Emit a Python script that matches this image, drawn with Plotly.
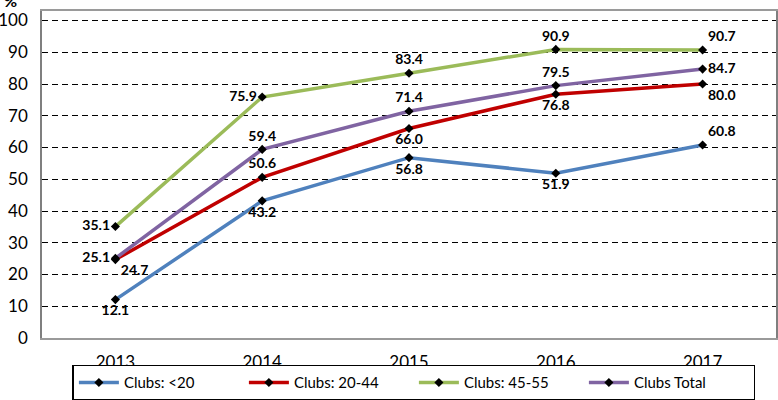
import plotly.graph_objects as go

years = ["2013", "2014", "2015", "2016", "2017"]
clubs_lt20 = [12.1, 43.2, 56.8, 51.9, 60.8]
clubs_20_44 = [24.7, 50.6, 66.0, 76.8, 80.0]
clubs_45_55 = [35.1, 75.9, 83.4, 90.9, 90.7]
clubs_total = [25.1, 59.4, 71.4, 79.5, 84.7]

series = [
    ("Clubs: <20", clubs_lt20, "#4F81BD",
     ["bottom center", "bottom center", "bottom center", "bottom center", "top right"]),
    ("Clubs: 20-44", clubs_20_44, "#C00000",
     ["bottom right", "top center", "bottom center", "bottom center", "bottom right"]),
    ("Clubs: 45-55", clubs_45_55, "#9BBB59",
     ["middle left", "middle left", "top center", "top center", "top right"]),
    ("Clubs Total", clubs_total, "#8064A2",
     ["middle left", "top center", "top center", "top center", "middle right"]),
]

fig = go.Figure()
for name, vals, color, pos in series:
    fig.add_trace(go.Scatter(
        x=years, y=vals, name=name, mode="lines+markers+text",
        line=dict(color=color, width=3.5),
        marker=dict(symbol="diamond", size=7, color="black"),
        text=[f"{v:.1f}" for v in vals],
        textposition=pos,
        textfont=dict(family="Lato", size=14, color="black", weight="bold"),
        cliponaxis=False,
    ))

fig.update_layout(
    width=778, height=400,
    margin=dict(l=42, r=2, t=11, b=62),
    paper_bgcolor="white", plot_bgcolor="white",
    font=dict(family="Lato", size=16, color="black"),
    xaxis=dict(
        type="category", range=[-0.5, 4.5], showgrid=False, automargin=False,
        showline=True, linecolor="#9a9a9a", linewidth=1.5, mirror=True,
        ticks="", ticklabelstandoff=8, tickfont=dict(size=17),
    ),
    yaxis=dict(
        range=[0, 103], tickvals=list(range(0, 101, 10)), automargin=False,
        showgrid=True, gridcolor="black", griddash="6px,4px", gridwidth=1,
        showline=True, linecolor="#7f7f7f", linewidth=1.5, mirror=True,
        zeroline=False, ticks="", ticklabelstandoff=9, tickfont=dict(size=17),
    ),
    legend=dict(
        orientation="h", xref="container", yref="container",
        x=0.532, xanchor="center", y=0.088, yanchor="top",
        bordercolor="black", borderwidth=1.5, font=dict(size=15),
        entrywidth=115, entrywidthmode="pixels",
        itemwidth=40, tracegroupgap=0,
    ),
    showlegend=True,
    annotations=[dict(
        text="%", xref="paper", yref="paper", x=-0.054, y=0.997,
        xanchor="left", yanchor="bottom", showarrow=False,
        font=dict(size=16, weight="bold"),
    )],
)

# drop the browser's default body margin so the figure sits at the page corner
fig.write_html("out.html", config={"displayModeBar": False},
               post_script="document.body.style.margin='0px';")
